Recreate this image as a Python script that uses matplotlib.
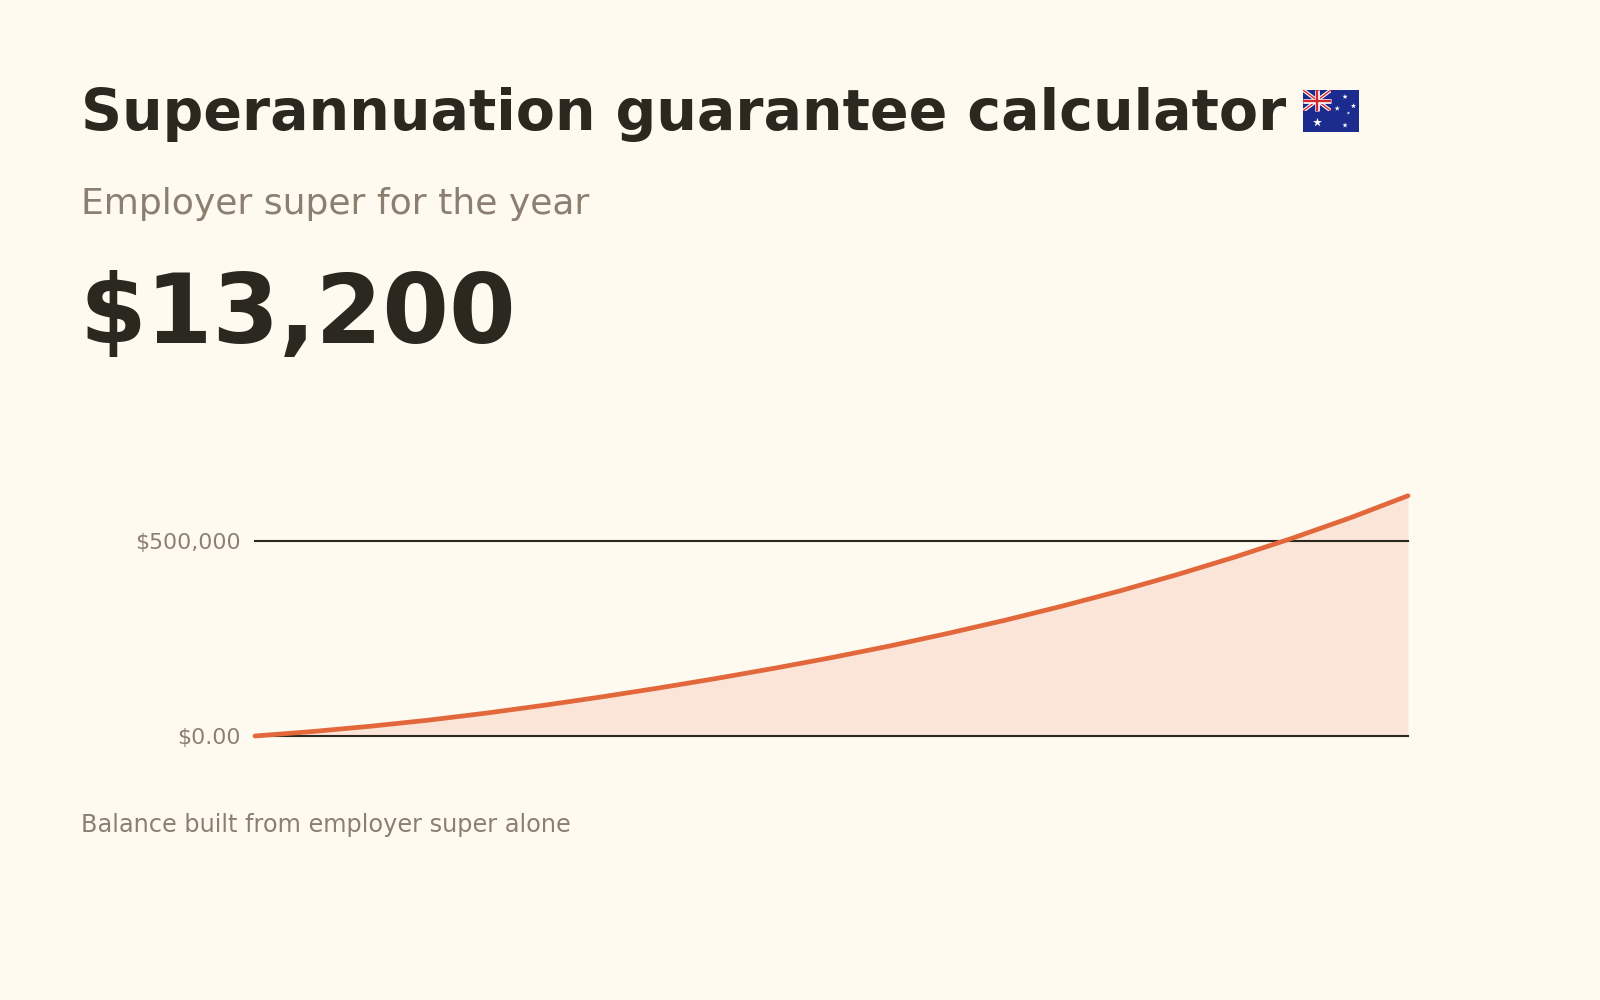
import numpy as np
import matplotlib
matplotlib.use("Agg")
import matplotlib.pyplot as plt
from matplotlib.patches import Rectangle

# Data

years = list(range(0, 41, 2))
balance = [0, 11500, 25000, 40500, 58500, 78500, 100000, 123000, 147500, 173500,
           201000, 230500, 262500, 296500, 333000, 372000, 414000, 459000,
           507500, 559500, 616000]

tick_values = [0, 500000]
tick_labels = ["$0.00", "$500,000"]

title = "Superannuation guarantee calculator"
subtitle = "Employer super for the year"
headline = "$13,200"
footnote = "Balance built from employer super alone"

# Colours

BG = "#FFFAEF"
DARK = "#2B2820"
GREY = "#8A7F71"
LINE = "#E2683C"
FILL = "#FBE5D8"


def draw_flag(ax):
    # small Australian flag drawn with patches (the emoji has no font here)
    ax.set_xlim(0, 2)
    ax.set_ylim(0, 1)
    ax.axis("off")
    ax.add_patch(Rectangle((0, 0), 2, 1, color="#1C2C8E"))
    canton = Rectangle((0, 0.5), 1, 0.5, transform=ax.transData)
    for xs, ys in [([0, 1], [0.5, 1]), ([0, 1], [1, 0.5])]:
        l1, = ax.plot(xs, ys, color="white", lw=2.6, solid_capstyle="butt")
        l2, = ax.plot(xs, ys, color="#D7262E", lw=1.0, solid_capstyle="butt")
        l1.set_clip_path(canton)
        l2.set_clip_path(canton)
    ax.plot([0.5, 0.5], [0.5, 1], color="white", lw=3.4, solid_capstyle="butt")
    ax.plot([0, 1], [0.75, 0.75], color="white", lw=3.4, solid_capstyle="butt")
    ax.plot([0.5, 0.5], [0.5, 1], color="#D7262E", lw=1.7, solid_capstyle="butt")
    ax.plot([0, 1], [0.75, 0.75], color="#D7262E", lw=1.7, solid_capstyle="butt")
    ax.scatter([0.5], [0.24], marker="*", s=45, color="white", lw=0)
    ax.scatter([1.5, 1.22, 1.5, 1.8, 1.62], [0.16, 0.56, 0.84, 0.62, 0.45],
               marker="*", s=[16, 16, 16, 16, 6], color="white", lw=0)


fig = plt.figure(figsize=(16, 10), dpi=100, facecolor=BG)

# Header texts

t = fig.text(0.0505, 0.870, title, fontsize=41, fontweight="bold",
             color=DARK, va="baseline", ha="left")
fig.text(0.0505, 0.786, subtitle, fontsize=26, color=GREY,
         va="baseline", ha="left")
fig.text(0.0495, 0.657, headline, fontsize=69, fontweight="bold",
         color=DARK, va="baseline", ha="left")
fig.text(0.0505, 0.168, footnote, fontsize=17.3, color=GREY,
         va="baseline", ha="left")

# Chart

ax = fig.add_axes([0.1594, 0.264, 0.7206, 0.2496])
ax.set_facecolor(BG)
ax.fill_between(years, balance, 0, color=FILL, lw=0, zorder=1)
for v in tick_values:
    ax.axhline(v, color=DARK, lw=1.5, zorder=2, clip_on=False)
ax.plot(years, balance, color=LINE, lw=3.4, solid_capstyle="round",
        solid_joinstyle="round", zorder=3, clip_on=False)

ax.set_xlim(years[0], years[-1])
ax.set_ylim(0, 640000)
ax.set_xticks([])
ax.set_yticks(tick_values)
ax.set_yticklabels(tick_labels)
ax.tick_params(axis="y", length=0, pad=10.5, labelsize=15.8, labelcolor=GREY)
for s in ax.spines.values():
    s.set_visible(False)

# Flag next to the title

fig.canvas.draw()
bb = t.get_window_extent(renderer=fig.canvas.get_renderer())
W, H = fig.get_size_inches() * fig.dpi
fax = fig.add_axes([(bb.x1 + 17) / W, 868 / H, 56 / W, 42 / H])
draw_flag(fax)

fig.savefig("out.png", dpi=100, facecolor=BG)
